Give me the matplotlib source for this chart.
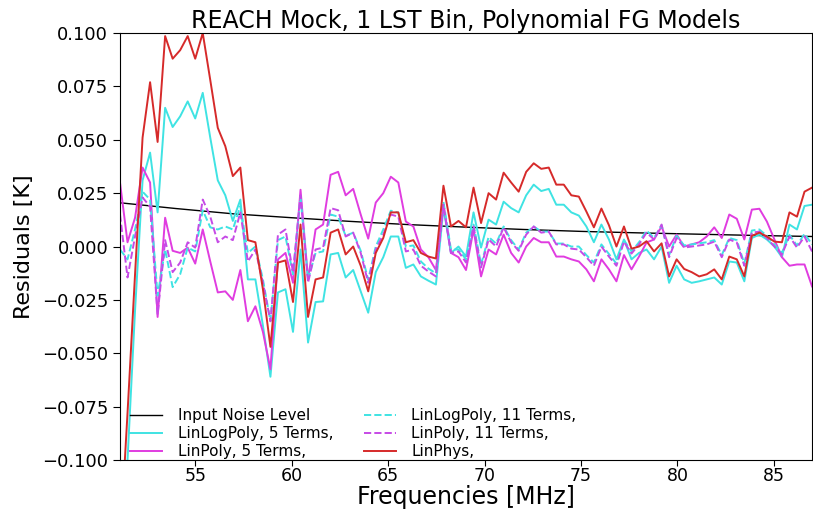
import numpy as np
import matplotlib
matplotlib.use("Agg")
import matplotlib.pyplot as plt

# frequency channels (MHz), 0.39 MHz spacing
freq = np.round(51.1 + 0.39 * np.arange(93), 3)

# input noise level, read at a few frequencies (smooth curve)
noise_freq = [51.1, 54, 57, 60, 63, 66, 69, 72, 75, 78, 81, 84, 87]
noise_level = [0.0205, 0.0178, 0.0153, 0.0135, 0.0118, 0.0103, 0.0091,
               0.0080, 0.0071, 0.0064, 0.0058, 0.0052, 0.0047]

linlog_5 = [-0.25, -0.10, -0.030, 0.031, 0.044, 0.016, 0.065, 0.056, 0.061, 0.068,
            0.060, 0.072, 0.051, 0.031, 0.024, 0.012, 0.022, -0.0154, -0.0154, -0.037,
            -0.061, -0.0215, -0.020, -0.040, -0.0014, -0.045, -0.026, -0.0257, -0.0037, -0.003,
            -0.0145, -0.011, -0.021, -0.031, -0.012, -0.005, 0.0047, 0.0047, -0.010, -0.0084,
            -0.014, -0.016, -0.0178, 0.018, -0.003, 0.0, -0.0047, 0.016, -0.0005, 0.0126,
            0.0103, 0.021, 0.018, 0.016, 0.024, 0.029, 0.026, 0.027, 0.0196, 0.0196,
            0.016, 0.0145, 0.0094, 0.002, 0.0103, 0.0033, -0.006, 0.0033, -0.006, -0.003,
            -0.0014, -0.006, 0.0, -0.017, -0.009, -0.0154, -0.017, -0.0163, -0.0154, -0.0145,
            -0.0178, -0.007, -0.0075, -0.0163, 0.004, 0.0056, 0.0033, 0.0, -0.005, 0.0103,
            0.008, 0.019, 0.0196]

linpoly_5 = [0.030, 0.002, 0.0135, 0.037, 0.030, -0.033, 0.0135, -0.002, -0.003, -0.0005,
             -0.008, 0.008, -0.007, -0.0215, -0.021, -0.025, -0.011, -0.035, -0.028, -0.040,
             -0.0575, -0.006, -0.003, -0.017, 0.0266, -0.0154, 0.008, 0.0103, 0.0336, 0.035,
             0.024, 0.027, 0.015, 0.0037, 0.0206, 0.025, 0.0327, 0.030, 0.0117, 0.0094,
             -0.0014, -0.005, -0.011, 0.0196, -0.003, -0.005, -0.011, 0.008, -0.014, -0.0014,
             -0.0037, 0.0056, -0.003, -0.0075, 0.0, 0.004, 0.002, 0.002, -0.0047, -0.0047,
             -0.006, -0.007, -0.0107, -0.0163, -0.006, -0.0107, -0.0163, -0.004, -0.0107, -0.0047,
             0.0019, 0.0033, 0.0094, 0.0, 0.0056, 0.0, 0.001, 0.002, 0.0047, 0.009,
             0.004, 0.015, 0.013, 0.0033, 0.0173, 0.0177, 0.0117, 0.0033, -0.005, -0.009,
             -0.0084, -0.0084, -0.0187]

linlog_11 = [-0.0014, -0.006, 0.008, 0.0257, 0.022, -0.023, -0.0014, -0.019, -0.013, -0.0005,
             -0.0023, 0.017, 0.009, 0.008, 0.0094, 0.008, 0.019, -0.003, 0.0, -0.0154,
             -0.035, 0.003, 0.0047, -0.013, 0.023, -0.0154, -0.003, -0.0023, 0.015, 0.014,
             0.005, 0.0065, -0.002, -0.0155, 0.0, 0.008, 0.0168, 0.0159, 0.0, 0.0005,
             -0.007, -0.0103, -0.0126, 0.021, -0.0014, -0.0014, -0.006, 0.0103, -0.0085, 0.0045,
             0.0014, 0.0094, 0.003, -0.0014, 0.0065, 0.0094, 0.007, 0.007, 0.0014, 0.0014,
             0.0, 0.0, -0.004, -0.0075, 0.001, -0.0035, -0.008, 0.003, -0.0023, 0.002,
             0.0075, 0.004, 0.010, -0.004, 0.005, 0.0005, 0.001, 0.0015, 0.002, 0.003,
             -0.004, 0.004, 0.003, -0.008, 0.0075, 0.008, 0.005, 0.001, -0.003, 0.0055,
             0.0005, 0.006, 0.001]

linpoly_11 = [0.015, -0.0145, 0.0047, 0.023, 0.0187, -0.032, 0.003, -0.012, -0.0075, 0.002,
              -0.0005, 0.022, 0.014, 0.002, 0.0047, 0.003, 0.016, -0.007, -0.0014, -0.017,
              -0.035, 0.0056, 0.008, -0.012, 0.024, -0.017, -0.0014, -0.0005, 0.018, 0.017,
              0.0047, 0.0065, -0.003, -0.017, -0.0014, 0.0056, 0.015, 0.014, -0.0023, -0.0014,
              -0.009, -0.0117, -0.014, 0.0196, -0.003, -0.0023, -0.0075, 0.0094, -0.0098, 0.0033,
              0.0, 0.009, 0.002, -0.002, 0.0056, 0.0094, 0.0065, 0.007, 0.001, 0.001,
              -0.001, -0.0014, -0.005, -0.009, 0.0, -0.0047, -0.009, 0.0023, -0.0033, 0.001,
              0.0065, 0.0033, 0.0103, -0.005, 0.004, -0.0005, 0.0, 0.0005, 0.001, 0.0023,
              -0.005, 0.0033, 0.0019, -0.009, 0.0065, 0.007, 0.004, 0.0, -0.0037, 0.0047,
              -0.0005, 0.0047, -0.0023]

linphys = [-0.14, -0.078, -0.013, 0.051, 0.077, 0.049, 0.0986, 0.088, 0.092, 0.0986,
           0.088, 0.100, 0.078, 0.0556, 0.047, 0.033, 0.037, 0.003, 0.002, -0.020,
           -0.047, -0.0075, -0.0065, -0.026, 0.0103, -0.033, -0.0154, -0.0145, 0.0065, 0.008,
           -0.0037, 0.0, -0.009, -0.021, -0.003, 0.004, 0.016, 0.016, 0.002, 0.003,
           -0.003, -0.0047, -0.0056, 0.0285, 0.0094, 0.012, 0.009, 0.0276, 0.011, 0.025,
           0.022, 0.0346, 0.030, 0.0257, 0.035, 0.039, 0.0364, 0.037, 0.029, 0.029,
           0.024, 0.0234, 0.0164, 0.009, 0.0178, 0.010, 0.0, 0.0094, -0.001, 0.0,
           0.0025, -0.0023, 0.0015, -0.014, -0.006, -0.0105, -0.012, -0.014, -0.013, -0.0107,
           -0.0154, -0.0047, -0.006, -0.014, 0.005, 0.0065, 0.0047, 0.0023, 0.002, 0.016,
           0.014, 0.0257, 0.0276]

y_ticks = [-0.1, -0.075, -0.05, -0.025, 0.0, 0.025, 0.05, 0.075, 0.1]
x_ticks = [55, 60, 65, 70, 75, 80, 85]

cyan = "#3fe3e3"
magenta = "#e03ce0"
purple = "#c64ae6"
red = "#d62a2a"

fig = plt.figure(figsize=(8.13, 5.09), dpi=100)
ax = fig.add_axes([0.1476, 0.0963, 0.8512, 0.8387])

lw = 1.4
ax.plot(noise_freq, noise_level, color="black", lw=1.0, label="Input Noise Level")
ax.plot(freq, linlog_5, color=cyan, lw=lw, label="LinLogPoly, 5 Terms,")
ax.plot(freq, linpoly_5, color=magenta, lw=lw, label="LinPoly, 5 Terms,")
ax.plot(freq, linlog_11, color=cyan, lw=lw, ls="--", label="LinLogPoly, 11 Terms,")
ax.plot(freq, linpoly_11, color=purple, lw=lw, ls="--", label="LinPoly, 11 Terms,")
ax.plot(freq, linphys, color=red, lw=lw, label="LinPhys,")

ax.set_xlim(freq[0], freq[-1])
ax.set_ylim(-0.1, 0.1)
ax.set_xticks(x_ticks)
ax.set_yticks(y_ticks)
ax.set_yticklabels([f"{v:.3f}".replace("-", "\u2212") for v in y_ticks])
ax.tick_params(labelsize=13, length=5)
ax.tick_params(axis="x", labelsize=12.5, length=4, pad=1)

ax.set_title("REACH Mock, 1 LST Bin, Polynomial FG Models", fontsize=17, pad=4)
ax.set_xlabel("Frequencies [MHz]", fontsize=17)
ax.xaxis.set_label_coords(0.5, -0.059)
ax.set_ylabel("Residuals [K]", fontsize=16)
ax.yaxis.set_label_coords(-0.124, 0.5)

ax.legend(loc="lower left", ncol=2, frameon=False, fontsize=11,
          labelspacing=0.2, borderaxespad=0, handlelength=2.1, handletextpad=1.0,
          bbox_to_anchor=(0.006, -0.013))

fig.savefig("out.png", dpi=100)
